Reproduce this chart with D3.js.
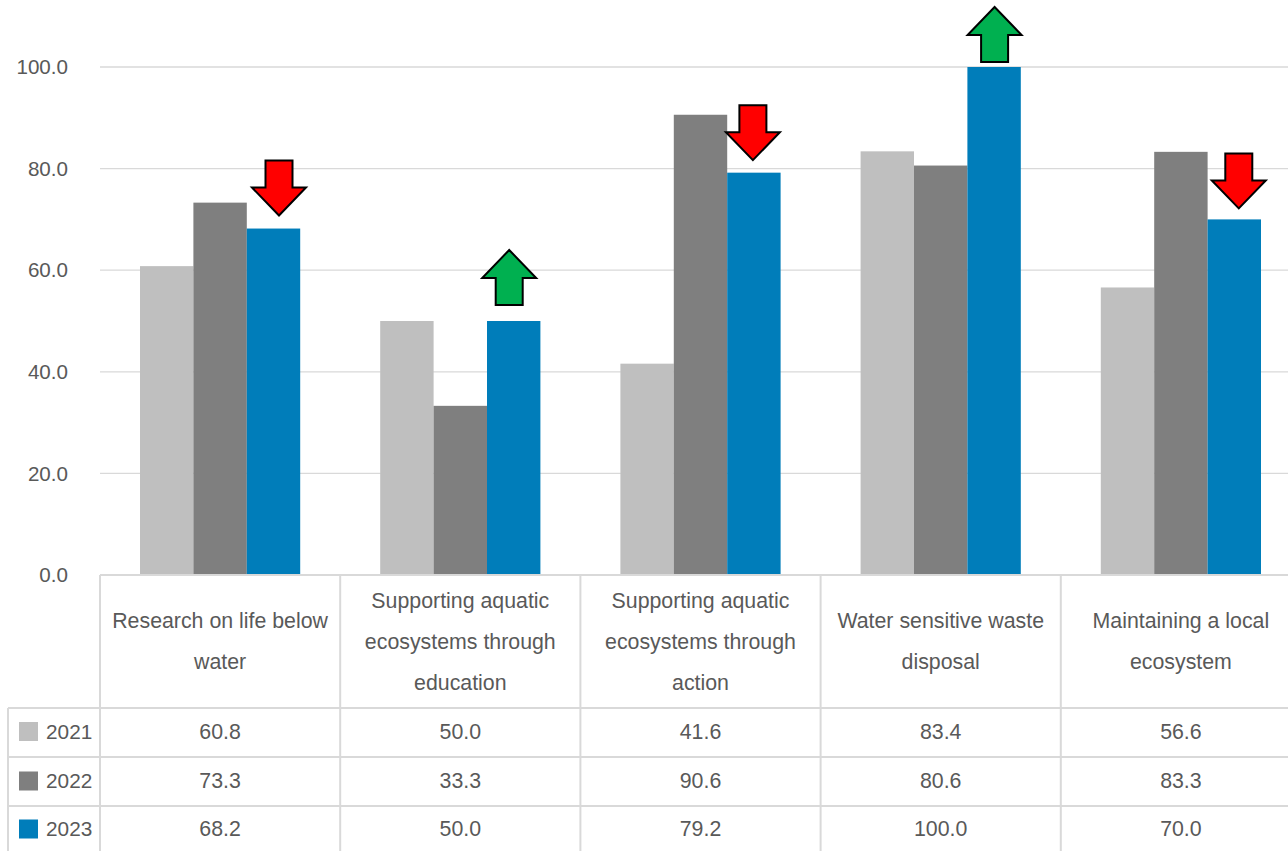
<!DOCTYPE html>
<html><head><meta charset="utf-8">
<script src="https://cdn.jsdelivr.net/npm/d3@7"></script>
<style>body{margin:0;background:#fff}svg{display:block}text{font-family:"Liberation Sans",Arial,sans-serif;fill:#595959}</style>
</head><body>
<svg id="c" width="1288" height="851"></svg>
<script>
const categories = [
  ["Research on life below", "water"],
  ["Supporting aquatic", "ecosystems through", "education"],
  ["Supporting aquatic", "ecosystems through", "action"],
  ["Water sensitive waste", "disposal"],
  ["Maintaining a local", "ecosystem"]
];
const seriesNames = ["2021", "2022", "2023"];
const v2021 = [60.8, 50.0, 41.6, 83.4, 56.6];
const v2022 = [73.3, 33.3, 90.6, 80.6, 83.3];
const v2023 = [68.2, 50.0, 79.2, 100.0, 70.0];
const trend = ["down", "up", "down", "up", "down"];
const yTicks = [0, 20, 40, 60, 80, 100];

(function () {
const colors = ["#BFBFBF", "#7F7F7F", "#007DBA"];
const series = [v2021, v2022, v2023];
const arrowGap = [13, 16, 12.5, 5, 11];
const arrowDx = [5.5, -4.5, -1, 0.5, 4.5];
const fs = 21.33;

const svg = d3.select("#c");
const left = 100, catW = 240.2, plotTop = 67, plotBottom = 575;
const x = d3.scaleBand().domain(d3.range(categories.length)).range([left, left + catW * 5]).paddingInner(0).paddingOuter(0);
const y = d3.scaleLinear().domain([0, 100]).range([plotBottom, plotTop]);
const grid = "#D9D9D9";

svg.append("g").selectAll("line").data(yTicks.slice(1)).join("line")
  .attr("x1", left).attr("x2", 1288).attr("y1", d => y(d)).attr("y2", d => y(d))
  .attr("stroke", grid).attr("stroke-width", 1.3);
svg.append("g").selectAll("text").data(yTicks).join("text")
  .attr("x", 68).attr("y", d => y(d)).attr("dy", "0.35em").attr("text-anchor", "end")
  .attr("font-size", 20.6).text(d => d.toFixed(1));

const groupPad = 40;
const xs = d3.scaleBand().domain(d3.range(3)).range([groupPad, catW - groupPad]).padding(0);
series.forEach((vals, si) => {
  svg.append("g").selectAll("rect").data(vals).join("rect")
    .attr("x", (d, i) => x(i) + xs(si)).attr("width", xs.bandwidth())
    .attr("y", d => y(d)).attr("height", d => y(0) - y(d)).attr("fill", colors[si]);
});

const aw = 54, ah = 55, sw = 27, hh = 28;
trend.forEach((t, i) => {
  const cx = x(i) + xs(2) + xs.bandwidth() / 2 + arrowDx[i];
  const bt = y(v2023[i]);
  let pts;
  if (t === "down") {
    const tip = bt - arrowGap[i], t0 = tip - ah;
    pts = [[cx - sw/2, t0], [cx + sw/2, t0], [cx + sw/2, tip - hh], [cx + aw/2, tip - hh], [cx, tip], [cx - aw/2, tip - hh], [cx - sw/2, tip - hh]];
  } else {
    const b0 = bt - arrowGap[i], tip = b0 - ah;
    pts = [[cx - sw/2, b0], [cx + sw/2, b0], [cx + sw/2, tip + hh], [cx + aw/2, tip + hh], [cx, tip], [cx - aw/2, tip + hh], [cx - sw/2, tip + hh]];
  }
  svg.append("polygon").attr("points", pts.map(p => p.join(",")).join(" "))
    .attr("fill", t === "down" ? "#FF0000" : "#00B050").attr("stroke", "#000").attr("stroke-width", 2).attr("stroke-linejoin", "miter");
});

const rowLines = [708, 757, 806];
const tl = svg.append("g").attr("stroke", grid).attr("stroke-width", 2);
tl.append("line").attr("x1", left).attr("x2", 1288).attr("y1", plotBottom).attr("y2", plotBottom);
rowLines.forEach(r => tl.append("line").attr("x1", 8).attr("x2", 1288).attr("y1", r).attr("y2", r));
d3.range(categories.length + 1).forEach(i => {
  const xx = left + catW * i;
  if (xx < 1288) tl.append("line").attr("x1", xx).attr("x2", xx).attr("y1", plotBottom).attr("y2", 851);
});
tl.append("line").attr("x1", 8).attr("x2", 8).attr("y1", rowLines[0]).attr("y2", 851);

categories.forEach((lines, i) => {
  const cx = x(i) + catW / 2;
  const n = lines.length, mid = (plotBottom + rowLines[0]) / 2, lh = 41;
  lines.forEach((ln, k) => {
    svg.append("text").attr("x", cx).attr("y", mid + (k - (n - 1) / 2) * lh).attr("dy", "0.35em")
      .attr("text-anchor", "middle").attr("font-size", fs).text(ln);
  });
});

const rowCenters = [731.5, 781, 829];
series.forEach((vals, si) => {
  const ry = rowCenters[si];
  svg.append("rect").attr("x", 19).attr("y", ry - 9.5).attr("width", 19).attr("height", 19).attr("fill", colors[si]);
  svg.append("text").attr("x", 46).attr("y", ry).attr("dy", "0.35em").attr("font-size", 20.8).text(seriesNames[si]);
  svg.append("g").selectAll("text").data(vals).join("text")
    .attr("x", (d, i) => x(i) + catW / 2).attr("y", ry).attr("dy", "0.35em").attr("text-anchor", "middle")
    .attr("font-size", fs).text(d => d.toFixed(1));
});
})();
</script>
</body></html>
